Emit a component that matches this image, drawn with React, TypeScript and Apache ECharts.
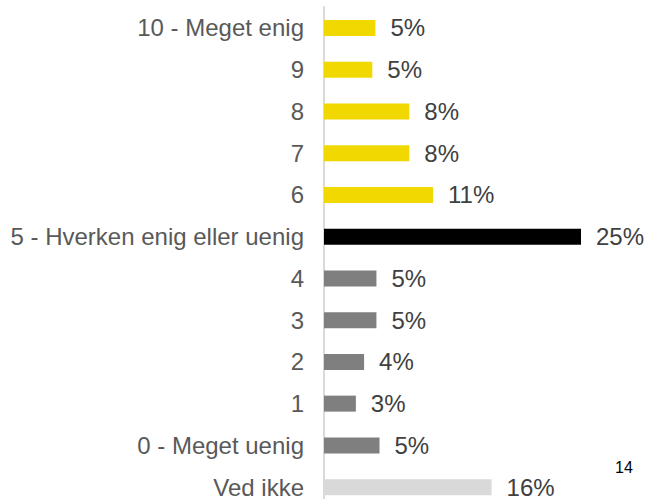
import React, { useEffect, useRef } from "react";
import * as echarts from "echarts";

const categories = [
  "10 - Meget enig",
  "9",
  "8",
  "7",
  "6",
  "5 - Hverken enig eller uenig",
  "4",
  "3",
  "2",
  "1",
  "0 - Meget uenig",
  "Ved ikke",
];
const values = [5.0, 4.7, 8.3, 8.3, 10.6, 25.0, 5.1, 5.1, 3.9, 3.1, 5.4, 16.3];
const barColors = [
  "#F0D800", "#F0D800", "#F0D800", "#F0D800", "#F0D800",
  "#000000",
  "#7F7F7F", "#7F7F7F", "#7F7F7F", "#7F7F7F", "#7F7F7F",
  "#D9D9D9",
];
const pageNumber = "14";

const FONT = "'Liberation Sans', Arial, sans-serif";

export default function App() {
  const ref = useRef<HTMLDivElement>(null);
  useEffect(() => {
    if (!ref.current) return;
    const chart = echarts.init(ref.current, undefined, { renderer: "svg" });
    chart.setOption({
      animation: false,
      backgroundColor: "#ffffff",
      grid: { left: 324, top: 7, width: 308.4, height: 501, containLabel: false },
      xAxis: {
        type: "value",
        min: 0,
        max: 30,
        show: false,
      },
      yAxis: {
        type: "category",
        data: categories,
        inverse: true,
        axisLine: { show: true, lineStyle: { color: "#D9D9D9", width: 2 } },
        axisTick: { show: false },
        splitLine: { show: false },
        axisLabel: {
          margin: 20,
          fontSize: 24,
          color: "#595959",
          fontFamily: FONT,
        },
      },
      series: [
        {
          type: "bar",
          barWidth: 16,
          data: values.map((v, i) => ({ value: v, itemStyle: { color: barColors[i] } })),
          label: {
            show: true,
            position: "right",
            distance: 15,
            fontSize: 24,
            color: "#404040",
            fontFamily: FONT,
            formatter: (p: any) => Math.round(p.value) + "%",
          },
        },
      ],
      graphic: [
        {
          type: "text",
          left: 615,
          top: 459,
          style: { text: pageNumber, fontSize: 16, fill: "#000000", fontFamily: FONT },
        },
      ],
    });
    return () => chart.dispose();
  }, []);
  return <div ref={ref} style={{ width: 659, height: 512, position: "fixed", left: 0, top: 0 }} />;
}
